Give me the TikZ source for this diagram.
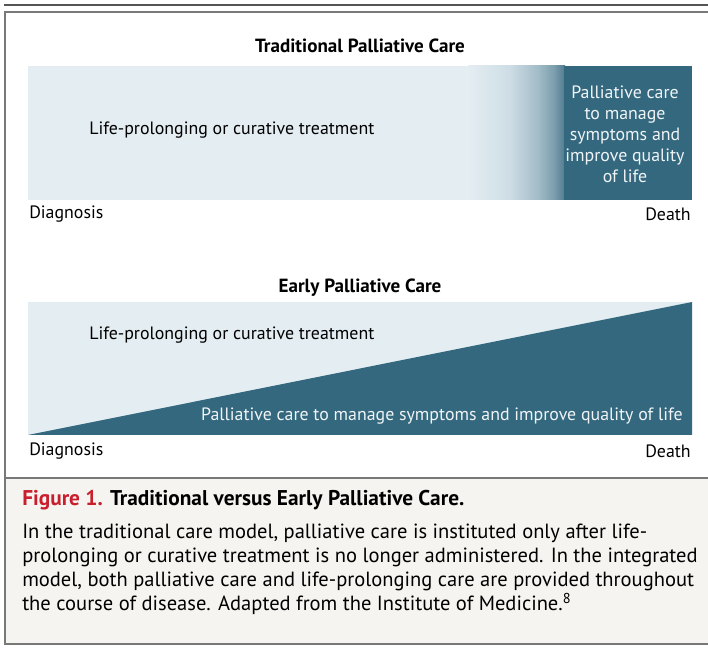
\documentclass[tikz,border=0pt]{standalone}
\usepackage{fontspec}
\setmainfont{PT Sans}
\definecolor{palteal}{RGB}{51,104,126}
\definecolor{curelight}{RGB}{228,237,242}
\definecolor{fadeone}{RGB}{205,221,229}
\definecolor{fadetwo}{RGB}{157,184,197}
\definecolor{fadethree}{RGB}{120,154,170}
\definecolor{fadefour}{RGB}{80,124,143}
\definecolor{capbg}{RGB}{246,244,240}
\definecolor{figred}{RGB}{200,30,45}
\definecolor{rulegray}{RGB}{85,85,85}
\definecolor{boxgray}{RGB}{120,120,120}
\definecolor{paltext}{RGB}{240,244,246}

\begin{document}
\begin{tikzpicture}[x=0.75pt,y=0.75pt,yscale=-1,xscale=1,
	lbl/.style={inner sep=0.75pt,font=\fontsize{13.4}{15.75}\selectfont},
	ttl/.style={inner sep=0.75pt,font=\bfseries\fontsize{14.3}{16}\selectfont},
	captext/.style={inner sep=0pt,font=\fontsize{15.4}{17.5}\selectfont,align=left}]
	\useasboundingbox (0,0) rectangle (708,649);
	% frame and caption ground
	\fill[capbg] (6,479) rectangle (708,643);
	\draw[rulegray,line width=1.5] (4,5) -- (708,5);
	\draw[boxgray,line width=1.5] (709,12) -- (5,12) -- (5,644) -- (709,644);
	\draw[boxgray,line width=1] (5,478) -- (709,478);

	% traditional model
	\fill[curelight] (28,66) rectangle (692,200);
	\shade[left color=curelight,right color=fadeone] (468,66) rectangle (511,200);
	\shade[left color=fadeone,right color=fadetwo] (510,66) rectangle (541,200);
	\shade[left color=fadetwo,right color=fadethree] (540,66) rectangle (556,200);
	\shade[left color=fadethree,right color=fadefour] (555,66) rectangle (565,200);
	\fill[palteal] (564,66) rectangle (692,200);

	\draw (360,46) node (tradttl) [ttl] {Traditional Palliative Care};
	\draw (88,130) node (tradcure) [lbl,anchor=west] {Life-prolonging or curative treatment};
	\draw (625,134) node (tradpal) [lbl,text=paltext,align=center] {Palliative care\\to manage\\symptoms and\\improve quality\\of life};
	\draw (28,214) node (tradstart) [lbl,anchor=west] {Diagnosis};
	\draw (692,214) node (tradend) [lbl,anchor=east] {Death};

	% early model
	\fill[curelight] (28,302) rectangle (692,435);
	\fill[palteal] (28,435) -- (692,302) -- (692,435) -- cycle;

	\draw (360,288) node (earlyttl) [ttl] {Early Palliative Care};
	\draw (88,335) node (earlycure) [lbl,anchor=west] {Life-prolonging or curative treatment};
	\draw (684,416) node (earlypal) [lbl,anchor=east,text=paltext] {Palliative care to manage symptoms and improve quality of life};
	\draw (28,451) node (earlystart) [lbl,anchor=west] {Diagnosis};
	\draw (692,451) node (earlyend) [lbl,anchor=east] {Death};

	% caption
	\draw (22,500) node (capttl) [captext,anchor=west,font=\bfseries\fontsize{16}{17.5}\selectfont] {\textcolor{figred}{Figure 1.} Traditional versus Early Palliative Care.};
	\draw (22,524) node (captxt) [captext,anchor=north west,font=\fontsize{15.4}{17.9}\selectfont] {In the traditional care model, palliative care is instituted only after life-\\prolonging or curative treatment is no longer administered. In the integrated\\model, both palliative care and life-prolonging care are provided throughout\\the course of disease. Adapted from the Institute of Medicine.\textsuperscript{8}};
\end{tikzpicture}
\end{document}
